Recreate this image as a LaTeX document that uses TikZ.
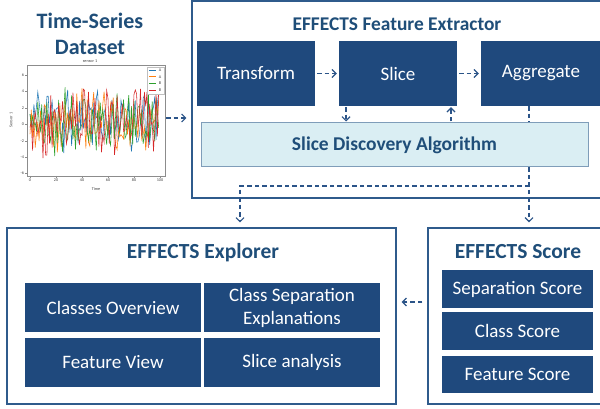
\documentclass[tikz,border=0pt]{standalone}
\usepackage{fontspec}
\setmainfont{Carlito}
\usetikzlibrary{arrows.meta,calc}
\definecolor{dkblue}{HTML}{1F497D}
\definecolor{titlecol}{HTML}{1F4E79}
\definecolor{bordercol}{HTML}{2F5B8C}
\definecolor{arrowcol}{HTML}{2B5488}
\definecolor{sdafill}{HTML}{DAEEF3}
\definecolor{sdaborder}{HTML}{7F9DB9}
\definecolor{mplA}{HTML}{1F77B4}
\definecolor{mplB}{HTML}{FF7F0E}
\definecolor{mplC}{HTML}{2CA02C}
\definecolor{mplD}{HTML}{D62728}
\begin{document}
\begin{tikzpicture}[x=1pt,y=-1pt,
  outer/.style={draw=bordercol, line width=1.1pt, fill=white, inner sep=0pt},
  inbox/.style={fill=dkblue, text=white, font=\fontsize{19}{21}\selectfont, align=center, inner sep=0pt},
  titletext/.style={text=titlecol, font=\bfseries\fontsize{21.5}{24}\selectfont, inner sep=0pt},
  dashline/.style={draw=arrowcol, line width=1.2pt, dash pattern=on 4.5pt off 3pt},
  dasharrow/.style={dashline, -{Straight Barb[length=4pt,width=8pt,line width=1.2pt]}},
  tinytext/.style={font=\fontsize{4.2}{5}\selectfont, text=black!75, inner sep=0.5pt}]
\clip (0,0) rectangle (600,409);
\fill[white] (0,0) rectangle (600,409);

% ---------- Time-series dataset ----------
\node[titletext, align=center, font=\bfseries\fontsize{22}{26}\selectfont] (dstitle) at (90,34) {Time-Series\\Dataset};
\node[tinytext] (charttitle) at (90,61) {sensor 1};
\node[tinytext] (xlab) at (96,189) {Time};
\node[tinytext, rotate=90] (ylab) at (11,120) {Sensor 1};
\begin{scope}[shift={(30,124.3)}, x=1.3pt, y=8.2pt]
  \draw[black!45, line width=0.4pt] (-2.3,-6.3) rectangle (103.8,7.23);
  \foreach \v in {-6,-4,-2,0,2,4,6} {
    \draw[black!45, line width=0.3pt] (-2.3,\v) -- ++(-1.5,0);
    \node[tinytext, anchor=east] at (-4,\v) {\v};
  }
  \foreach \t in {0,20,40,60,80,100} {
    \draw[black!45, line width=0.3pt] (\t,-6.3) -- ++(0,-0.25);
    \node[tinytext, anchor=north] at (\t,-6.55) {\t};
  }
  \begin{scope}
    \clip (-2.3,-6.3) rectangle (103.8,7.23);
    \pgfmathsetseed{11}
    \draw[mplA, line width=0.55pt] plot[domain=0:99, samples=100] (\x,{0.4+3.1*rand+1.4*rand});
    \draw[mplB, line width=0.55pt] plot[domain=0:99, samples=100] (\x,{0.5+3.2*rand+1.5*rand});
    \draw[mplC, line width=0.55pt] plot[domain=0:99, samples=100] (\x,{0.2+3.2*rand+1.4*rand});
    \draw[mplD, line width=0.55pt] plot[domain=0:99, samples=100] (\x,{0.3+3.3*rand+1.5*rand});
  \end{scope}
\end{scope}
% legend
\draw[black!25, fill=white, line width=0.3pt] (147,67) rectangle (164,94);
\foreach \yy/\cc/\ll in {70/mplA/A, 76.7/mplB/A, 83.3/mplC/B, 90/mplD/B} {
  \draw[\cc, line width=0.6pt] (149,\yy) -- (156,\yy);
  \node[tinytext] at (160,\yy) {\ll};
}

% ---------- Feature extractor ----------
\node[outer, minimum width=414pt, minimum height=197pt] (extractor) at (399,99.5) {};
\node[titletext, font=\bfseries\fontsize{19.4}{22}\selectfont] (extitle) at (397,24) {EFFECTS Feature Extractor};
\node[inbox, minimum width=118pt, minimum height=65pt] (transform) at (256,73.5) {Transform};
\node[inbox, minimum width=118pt, minimum height=65pt] (slice) at (398,73.5) {Slice};
\node[inbox, minimum width=120pt, minimum height=65pt] (aggregate) at (541,73.5) {Aggregate};
\node[draw=sdaborder, line width=1pt, fill=sdafill, minimum width=387pt, minimum height=44pt, inner sep=0pt,
      text=titlecol, font=\bfseries\fontsize{19.5}{21}\selectfont] (sda) at (394.5,145) {Slice Discovery Algorithm};

% ---------- Explorer ----------
\node[outer, minimum width=389pt, minimum height=176pt] (explorer) at (201.5,316) {};
\node[titletext] (exptitle) at (203,253) {EFFECTS Explorer};
\node[inbox, minimum width=176pt, minimum height=49pt] (overview) at (113,307.5) {Classes Overview};
\node[inbox, minimum width=176pt, minimum height=49pt] (separation) at (292,307.5) {Class Separation\\[2pt]Explanations};
\node[inbox, minimum width=176pt, minimum height=49pt] (featview) at (113,362.5) {Feature View};
\node[inbox, minimum width=176pt, minimum height=49pt] (sliceana) at (292,362.5) {Slice analysis};

% ---------- Score ----------
\node[outer, minimum width=178pt, minimum height=176pt] (score) at (517,316) {};
\node[titletext] (sctitle) at (518,252) {EFFECTS Score};
\node[inbox, minimum width=151pt, minimum height=38pt] (sepscore) at (517.5,289) {Separation Score};
\node[inbox, minimum width=151pt, minimum height=38pt] (clscore) at (517.5,331) {Class Score};
\node[inbox, minimum width=151pt, minimum height=37pt] (featscore) at (517.5,374.5) {Feature Score};

% ---------- connectors ----------
\coordinate (dsout) at (166,118);
\coordinate (xdown) at (346,0);
\coordinate (xup) at (451,0);
\coordinate (xagg) at (529,0);
\coordinate (xexp) at (240,0);
\coordinate (split) at (529,186);
\coordinate (scout) at ($(score.west)+(-5,-14)$);

\draw[dasharrow, shorten >=5pt] (dsout) -- (dsout -| extractor.west);
\draw[dasharrow, shorten <=2pt, shorten >=2pt] (transform.east) -- (slice.west);
\draw[dasharrow, shorten <=2pt, shorten >=2pt] (slice.east) -- (aggregate.west);
\draw[dasharrow, shorten <=1pt, shorten >=1pt] (slice.south -| xdown) -- (sda.north -| xdown);
\draw[dasharrow, shorten <=1pt, shorten >=1pt] (sda.north -| xup) -- (slice.south -| xup);
\draw[dashline] (aggregate.south -| xagg) -- (sda.north -| xagg);
\draw[dasharrow, shorten >=5pt] (sda.south -| xagg) -- (score.north -| xagg);
\draw[dasharrow, shorten >=5pt] (split) -- (split -| xexp) -- (explorer.north -| xexp);
\draw[dasharrow, shorten >=5pt] (scout) -- (scout -| explorer.east);
\end{tikzpicture}
\end{document}
